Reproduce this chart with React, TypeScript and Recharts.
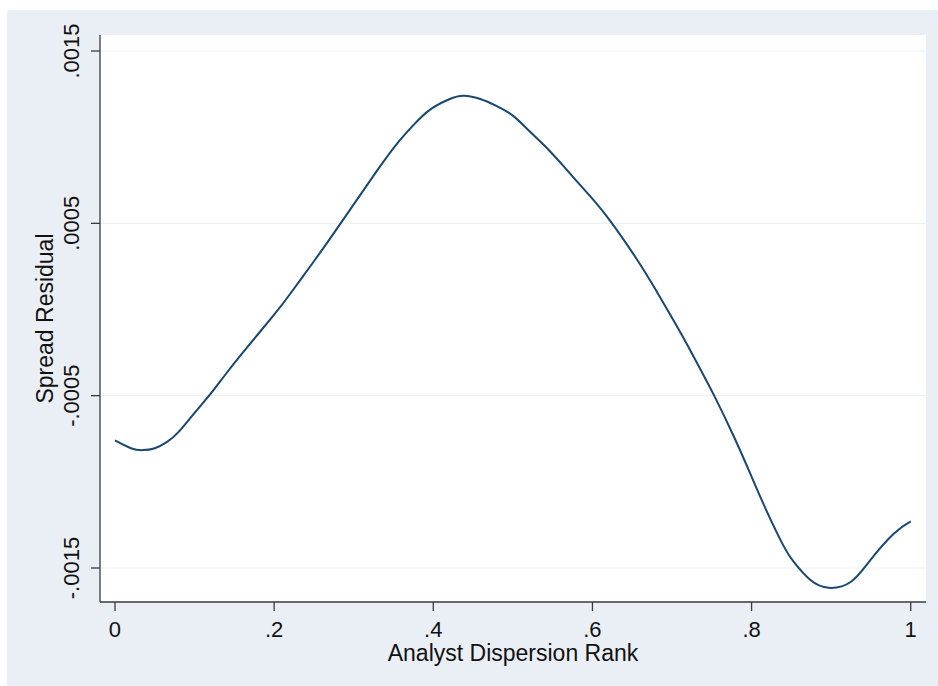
import React from 'react';
import { LineChart, Line, XAxis, YAxis, CartesianGrid } from 'recharts';

// lowess-style fit
const rank = [
  0, 0.02, 0.035, 0.05, 0.065, 0.08, 0.1, 0.12, 0.14, 0.166, 0.2, 0.22, 0.25, 0.27, 0.3, 0.33,
  0.354, 0.375, 0.396, 0.42, 0.438, 0.46, 0.48, 0.5, 0.522, 0.54, 0.564, 0.585, 0.606, 0.623,
  0.64, 0.656, 0.675, 0.694, 0.715, 0.736, 0.753, 0.778, 0.8, 0.82, 0.84, 0.853, 0.874, 0.897,
  0.925, 0.95, 0.979, 1,
];
const residual = [
  -0.00076, -0.000805, -0.000816, -0.000805, -0.00077, -0.00071, -0.0006, -0.00049, -0.00037,
  -0.00022, -0.00003, 0.00009, 0.00028, 0.00041, 0.00061, 0.00081, 0.00096, 0.00107, 0.00116,
  0.00122, 0.00124, 0.00122, 0.00118, 0.001125, 0.00103, 0.00095, 0.00083, 0.00072, 0.00061,
  0.00051, 0.0004, 0.00029, 0.00015, 0.0, -0.00017, -0.00035, -0.0005, -0.00074, -0.00097,
  -0.00118, -0.00137, -0.001465, -0.00157, -0.001615, -0.00158, -0.00145, -0.0013, -0.00123,
];
const xTicks = [0, 0.2, 0.4, 0.6, 0.8, 1];
const yTicks = [-0.0015, -0.0005, 0.0005, 0.0015];

const data = rank.map((r, i) => ({ rank: r, residual: residual[i] }));

const FONT = '"Liberation Sans", Arial, sans-serif';
const NAVY = '#1a476f';
const AXIS = '#3a3a3a';

// Stata-style labels: ".2", "-.0005"
const stataNum = (v: number, digits: number) => {
  if (v === 0) return '0';
  if (v === 1) return '1';
  let s = v.toFixed(digits);
  s = s.replace(/^(-?)0\./, '$1.');
  return s;
};

const XTick = (props: any) => {
  const { x, y, payload } = props;
  return (
    <text x={x} y={y + 24} textAnchor="middle" fontSize={22} fontFamily={FONT} fill="#111">
      {stataNum(payload.value, 1)}
    </text>
  );
};

const YTick = (props: any) => {
  const { x, y, payload } = props;
  const bx = x - 10;
  return (
    <text
      x={bx}
      y={y}
      transform={`rotate(-90, ${bx}, ${y})`}
      textAnchor="middle"
      fontSize={22}
      fontFamily={FONT}
      fill="#111"
    >
      {stataNum(payload.value, 4)}
    </text>
  );
};

const XTitle = (props: any) => {
  const vb = props.viewBox;
  return (
    <text x={vb.x + vb.width / 2} y={661} textAnchor="middle" fontSize={23} fontFamily={FONT} fill="#111">
      Analyst Dispersion Rank
    </text>
  );
};

const YTitle = (props: any) => {
  const vb = props.viewBox;
  const cy = vb.y + vb.height / 2;
  return (
    <text
      x={53}
      y={cy}
      transform={`rotate(-90, 53, ${cy})`}
      textAnchor="middle"
      fontSize={23}
      fontFamily={FONT}
      fill="#111"
    >
      Spread Residual
    </text>
  );
};

const App: React.FC = () => {
  return (
    <div style={{ position: 'absolute', left: 0, top: 0, width: 938, height: 686, background: '#fff' }}>
      <div style={{ position: 'absolute', left: 7, top: 10, width: 931, height: 676, background: '#eaeff6' }} />
      <div style={{ position: 'absolute', left: 0, top: 0 }}>
        <LineChart width={938} height={686} data={data} margin={{ top: 35, right: 12, left: 0, bottom: 0 }}>
          <CartesianGrid vertical={false} fill="#ffffff" stroke="#eef2f7" strokeWidth={1.2} horizontalValues={yTicks} />
          <XAxis
            dataKey="rank"
            type="number"
            domain={[-0.01885, 1.0192]}
            ticks={xTicks}
            allowDataOverflow
            height={84}
            tickSize={9}
            tickMargin={2}
            stroke={AXIS}
            strokeWidth={1.3}
            tick={<XTick />}
            label={{ content: (p: any) => <XTitle {...p} /> }}
          />
          <YAxis
            type="number"
            domain={[-0.0016973, 0.0015928]}
            ticks={yTicks}
            allowDataOverflow
            width={100}
            tickSize={9}
            tickMargin={2}
            stroke={AXIS}
            strokeWidth={1.3}
            tick={<YTick />}
            label={{ content: (p: any) => <YTitle {...p} /> }}
          />
          <Line
            type="natural"
            dataKey="residual"
            stroke={NAVY}
            strokeWidth={2}
            dot={false}
            activeDot={false}
            isAnimationActive={false}
          />
        </LineChart>
      </div>
    </div>
  );
};

export default App;
